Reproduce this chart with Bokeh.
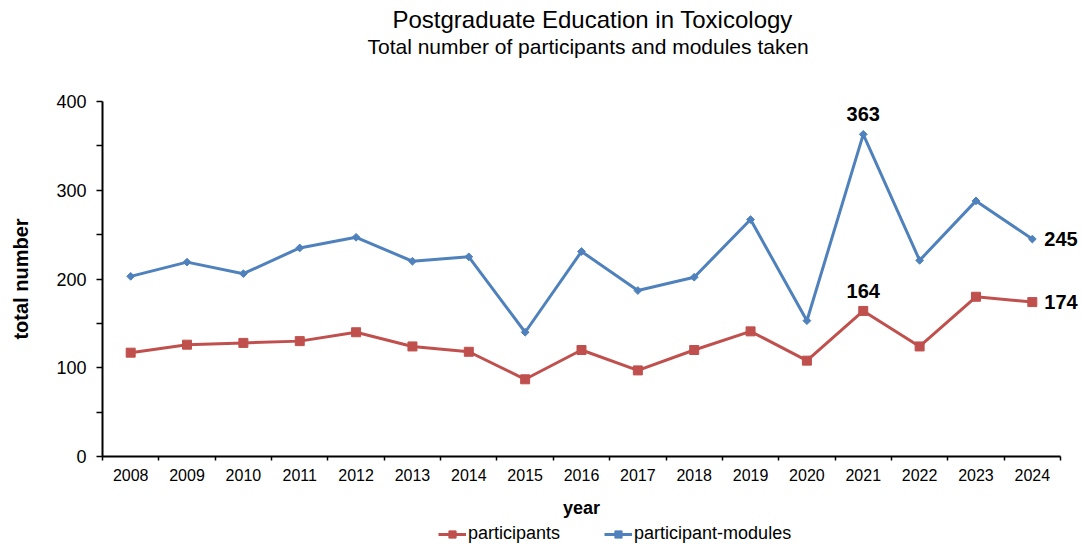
import math
from bokeh.plotting import figure
from bokeh.models import (Range1d, FixedTicker, Title, ColumnDataSource, LabelSet, Label)
from bokeh.core.properties import value
from bokeh.embed import file_html
from bokeh.resources import INLINE

# ---- data ----
years = [2008, 2009, 2010, 2011, 2012, 2013, 2014, 2015, 2016,
         2017, 2018, 2019, 2020, 2021, 2022, 2023, 2024]
participants = [117, 126, 128, 130, 140, 124, 118, 87, 120,
                97, 120, 141, 108, 164, 124, 180, 174]
participant_modules = [203, 219, 206, 235, 247, 220, 225, 140, 231,
                       187, 202, 267, 153, 363, 221, 288, 245]
y_ticks = [0, 100, 200, 300, 400]
y_minor = [50, 150, 250, 350]

# annotated values
above_years = [2021, 2021]
above_values = [363, 164]
right_years = [2024, 2024]
right_values = [245, 174]

title_text = "Postgraduate Education in Toxicology"
subtitle_text = "Total number of participants and modules taken"
x_label = "year"
y_label = "total number"

RED = "#C0504D"
BLUE = "#4F81BD"
FONT = "Liberation Sans"

# ---- layout: the frame fills the page below the titles; axes are pinned ----
W, H = 1085, 544
FRAME_TOP = 70                  # frame top (titles above)
AX_LEFT, AX_RIGHT, AX_TOP, AX_BOTTOM = 102, 1060, 101, 456   # pixel box of the axes
x_lo, x_hi = years[0] - 0.5, years[-1] + 0.5
y_lo, y_hi = y_ticks[0], y_ticks[-1]
xpx = (AX_RIGHT - AX_LEFT) / (x_hi - x_lo)
ypx = (AX_BOTTOM - AX_TOP) / (y_hi - y_lo)

p = figure(width=W, height=H, output_backend="svg", toolbar_location=None,
           x_range=Range1d(x_lo - AX_LEFT / xpx, x_hi + (W - AX_RIGHT) / xpx),
           y_range=Range1d(y_lo - (H - AX_BOTTOM) / ypx,
                           y_hi + (AX_TOP - FRAME_TOP) / ypx),
           min_border_left=0, min_border_right=0, min_border_top=FRAME_TOP,
           min_border_bottom=0, title=None)
p.outline_line_color = None
p.background_fill_color = "white"
p.border_fill_color = "white"
p.xgrid.visible = False
p.ygrid.visible = False

# titles (spacer nearest the frame, then subtitle, then title)
p.add_layout(Title(text=" ", text_font_size="1px", standoff=10), "above")
p.add_layout(Title(text=subtitle_text, align="left", offset=367, text_font=FONT,
                   text_font_size="21px", text_font_style="normal",
                   text_color="black", standoff=0), "above")
p.add_layout(Title(text=title_text, align="left", offset=392, text_font=FONT,
                   text_font_size="24px", text_font_style="normal",
                   text_color="black", standoff=0), "above")

# lines
p.line(years, participants, line_color=RED, line_width=3,
       legend_label="participants")
p.scatter(years, participants, marker="square", size=9, fill_color=RED,
          line_color=RED, legend_label="participants")
p.line(years, participant_modules, line_color=BLUE, line_width=3,
       legend_label="participant-modules")
p.scatter(years, participant_modules, marker="square", angle=0.7854, size=5.5,
          fill_color=BLUE, line_color=BLUE, legend_label="participant-modules")

# data labels
src_above = ColumnDataSource(dict(x=above_years, y=above_values,
                                  t=[str(v) for v in above_values]))
src_right = ColumnDataSource(dict(x=right_years, y=right_values,
                                  t=[str(v) for v in right_values]))
p.add_layout(LabelSet(x="x", y="y", text="t", source=src_above, y_offset=20,
                      text_align="center", text_baseline="middle",
                      text_font=value(FONT), text_font_size=value("20px"),
                      text_font_style=value("bold"), text_color="black"))
p.add_layout(LabelSet(x="x", y="y", text="t", source=src_right, x_offset=12,
                      text_align="left", text_baseline="middle",
                      text_font=value(FONT), text_font_size=value("20px"),
                      text_font_style=value("bold"), text_color="black"))

# x axis pinned at y = 0
xa = p.xaxis[0]
xa.fixed_location = y_lo
xa.bounds = (x_lo, x_hi)
xa.ticker = FixedTicker(ticks=years,
                        minor_ticks=[y - 0.5 for y in years] + [x_hi])
xa.major_tick_out = 0
xa.major_tick_in = 0
xa.minor_tick_out = 4
xa.minor_tick_in = 0
xa.minor_tick_line_color = "black"
xa.minor_tick_line_width = 1.5
xa.axis_line_color = "black"
xa.axis_line_width = 2
xa.major_label_text_font = FONT
xa.major_label_text_font_size = "16px"
xa.major_label_text_color = "black"
xa.major_label_standoff = 8

# y axis pinned at the left edge of the year range
ya = p.yaxis[0]
ya.fixed_location = x_lo
ya.bounds = (y_lo, y_hi)
ya.ticker = FixedTicker(ticks=y_ticks, minor_ticks=y_minor)
ya.major_tick_out = 6
ya.major_tick_in = 0
ya.minor_tick_out = 6
ya.minor_tick_in = 0
ya.major_tick_line_color = "black"
ya.minor_tick_line_color = "black"
ya.major_tick_line_width = 1.5
ya.minor_tick_line_width = 1.5
ya.axis_line_color = "black"
ya.axis_line_width = 2
ya.major_label_text_font = FONT
ya.major_label_text_font_size = "18px"
ya.major_label_text_color = "black"
ya.major_label_standoff = 10

# axis titles
p.add_layout(Label(x=(x_lo + x_hi) / 2, y=y_lo, y_offset=-51, text=x_label,
                   text_align="center", text_baseline="middle",
                   text_font=FONT, text_font_size="18px",
                   text_font_style="bold", text_color="black"))
p.add_layout(Label(x=x_lo, y=(y_lo + y_hi) / 2, x_offset=-82, text=y_label,
                   angle=math.pi / 2, text_align="center",
                   text_baseline="middle", text_font=FONT,
                   text_font_size="20px", text_font_style="bold",
                   text_color="black"))

# legend at the bottom of the page
lg = p.legend[0]
lg.location = (438, 0)
lg.orientation = "horizontal"
lg.border_line_color = None
lg.background_fill_alpha = 0
lg.padding = 0
lg.margin = 0
lg.spacing = 44
lg.glyph_width = 28
lg.glyph_height = 18
lg.label_height = 18
lg.label_standoff = 2
lg.label_text_font = FONT
lg.label_text_font_size = "18px"
lg.label_text_color = "black"

open("out.html", "w").write(file_html(p, INLINE))
